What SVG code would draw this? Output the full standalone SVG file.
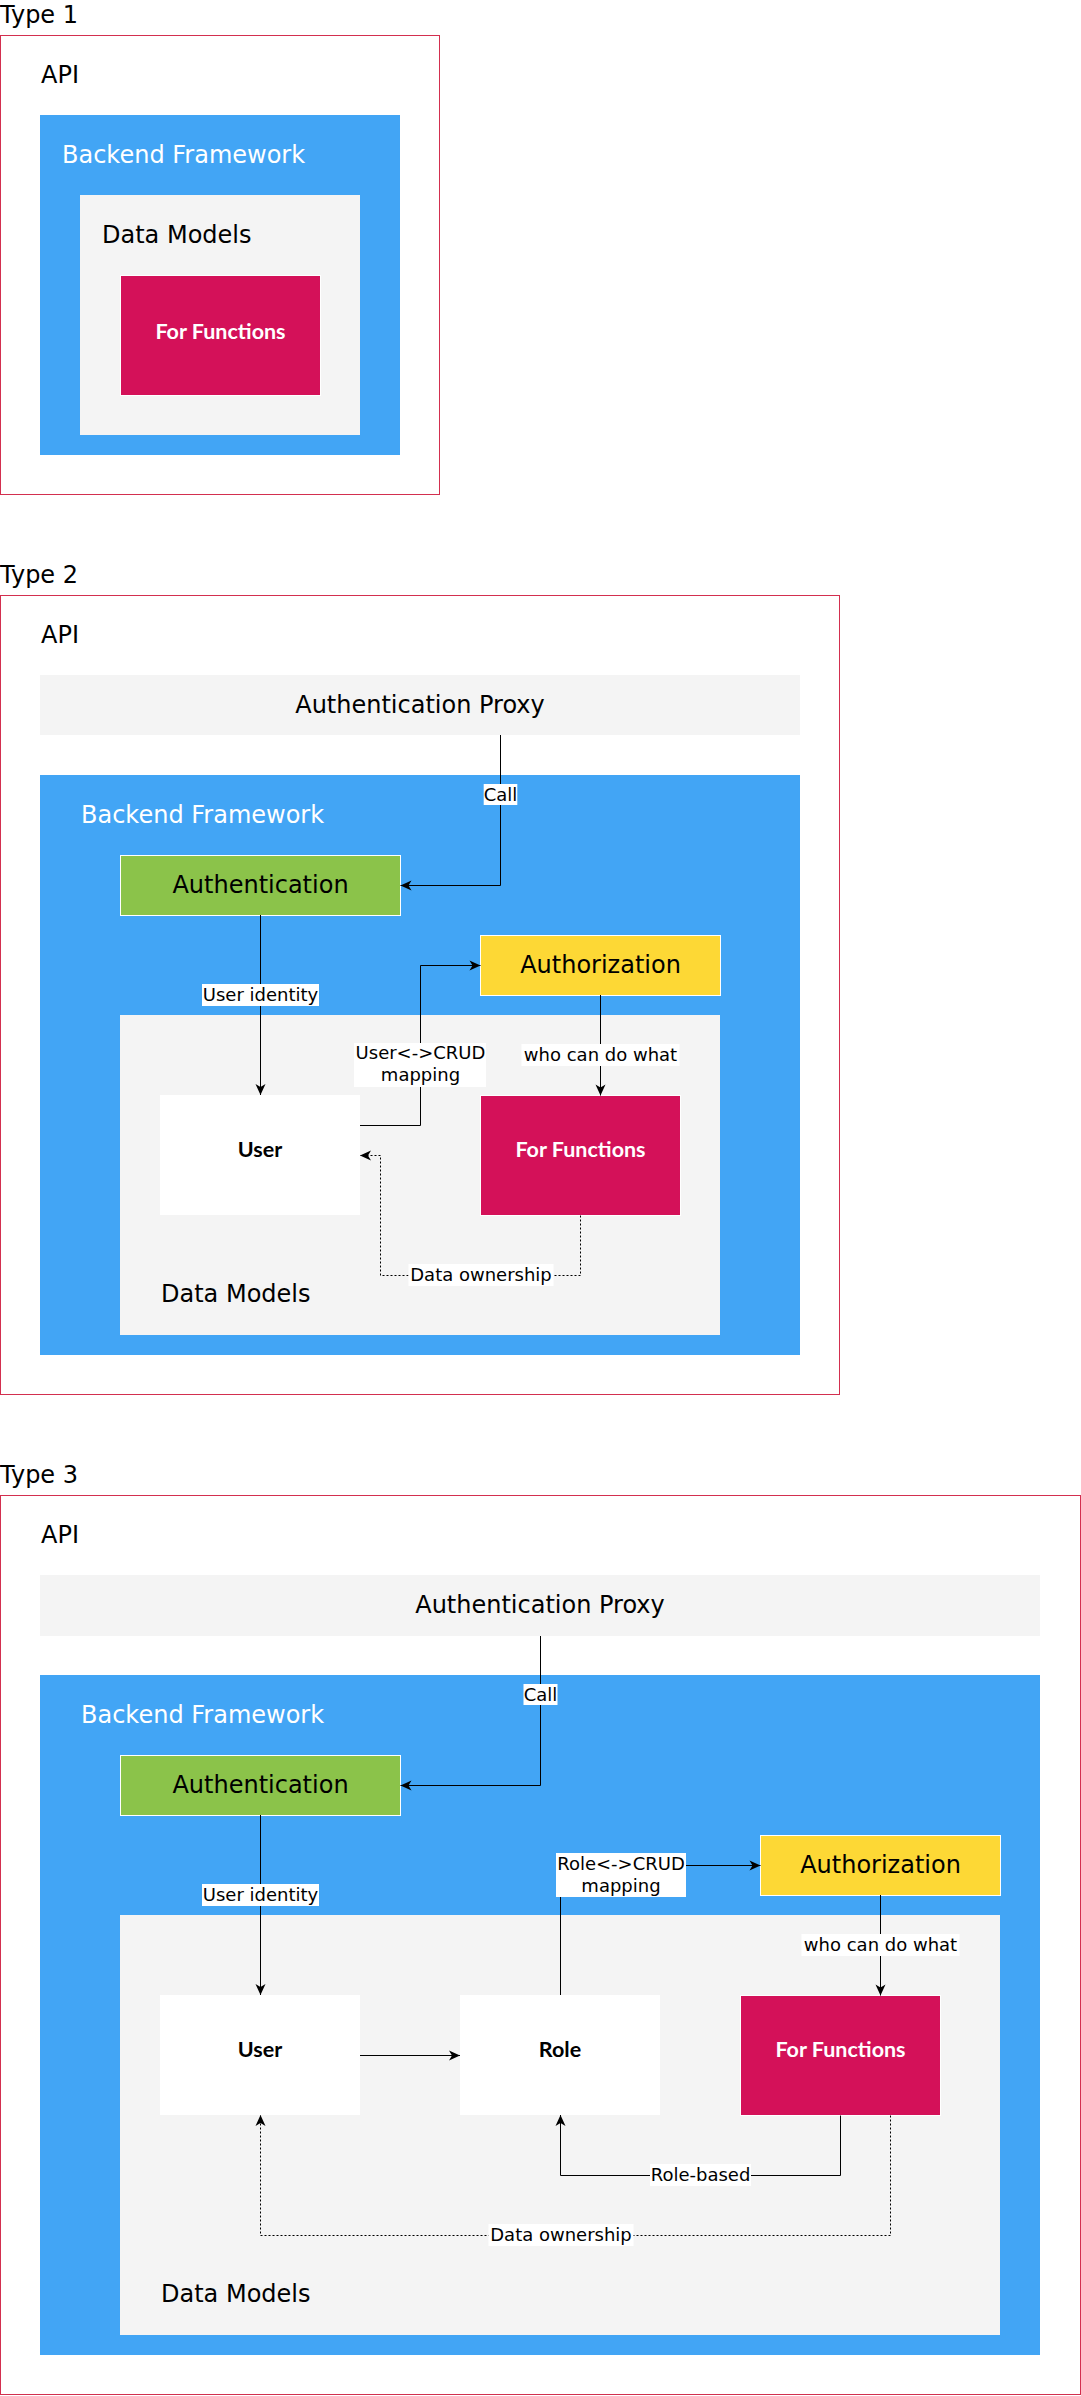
<svg xmlns="http://www.w3.org/2000/svg" width="1081" height="2396" viewBox="0 0 1081 2396">
<style>
.t{font-family:"DejaVu Sans",sans-serif;font-size:24px;fill:#000}
.c{text-anchor:middle}
.w{fill:#fff}
.b{font-family:Lato,"Liberation Sans",sans-serif;font-weight:bold;font-size:21.5px;text-anchor:middle}
.el{font-family:"DejaVu Sans",sans-serif;font-size:18px;text-anchor:middle;fill:#000}
.edge{fill:none;stroke:#000;stroke-width:1}
.dot{stroke-dasharray:2 2}
.frame{fill:#fff;stroke:#d32f4f;stroke-width:1}
.backend{fill:#42a5f5}
.dm{fill:#f4f4f4}
.proxy{fill:#f4f4f4}
.auth{fill:#8bc34a;stroke:#fff}
.authz{fill:#fdd835;stroke:#fff}
.ff{fill:#d41159;stroke:#fff}
.ent{fill:#fff}
.bg{fill:#fff}
</style>
<defs>
<marker id="arr" markerUnits="userSpaceOnUse" viewBox="-12 -6 13 12" refX="0" refY="0" markerWidth="13" markerHeight="12" orient="auto">
<path d="M0,0 L-11,-5 L-8,0 L-11,5 Z" fill="#000"/>
</marker>
</defs>
<rect width="1081" height="2396" fill="#fff"/>

<!-- Type 1 -->
<g id="type1">
<text class="t" x="0" y="23">Type 1</text>
<g id="t1-api"><rect class="frame" x="0.5" y="35.5" width="439" height="459"/><text class="t" x="41" y="83">API</text></g>
<g id="t1-backend"><rect class="backend" x="40" y="115" width="360" height="340"/><text class="t w" x="62" y="163">Backend Framework</text></g>
<g id="t1-datamodels"><rect class="dm" x="80" y="195" width="280" height="240"/><text class="t" x="102" y="243">Data Models</text></g>
<g id="t1-forfunctions"><rect class="ff" x="120.5" y="275.5" width="200" height="120"/><text class="b w" x="220.5" y="339">For Functions</text></g>
</g>

<!-- Type 2 -->
<g id="type2">
<text class="t" x="0" y="583">Type 2</text>
<g id="t2-api"><rect class="frame" x="0.5" y="595.5" width="839" height="799"/><text class="t" x="41" y="643">API</text></g>
<g id="t2-proxy"><rect class="proxy" x="40" y="675" width="760" height="60"/><text class="t c" x="420" y="713">Authentication Proxy</text></g>
<g id="t2-backend"><rect class="backend" x="40" y="775" width="760" height="580"/><text class="t w" x="81" y="823">Backend Framework</text></g>
<g id="t2-authentication"><rect class="auth" x="120.5" y="855.5" width="280" height="60"/><text class="t c" x="260.5" y="893">Authentication</text></g>
<g id="t2-authorization"><rect class="authz" x="480.5" y="935.5" width="240" height="60"/><text class="t c" x="600.5" y="973">Authorization</text></g>
<g id="t2-datamodels"><rect class="dm" x="120" y="1015" width="600" height="320"/><text class="t" x="161" y="1302">Data Models</text></g>
<g id="t2-user"><rect class="ent" x="160" y="1095" width="200" height="120"/><text class="b" x="260" y="1157">User</text></g>
<g id="t2-forfunctions"><rect class="ff" x="480.5" y="1095.5" width="200" height="120"/><text class="b w" x="580.5" y="1157">For Functions</text></g>
</g>

<!-- Type 3 -->
<g id="type3">
<text class="t" x="0" y="1483">Type 3</text>
<g id="t3-api"><rect class="frame" x="0.5" y="1495.5" width="1080" height="899"/><text class="t" x="41" y="1543">API</text></g>
<g id="t3-proxy"><rect class="proxy" x="40" y="1575" width="1000" height="61"/><text class="t c" x="540" y="1613">Authentication Proxy</text></g>
<g id="t3-backend"><rect class="backend" x="40" y="1675" width="1000" height="680"/><text class="t w" x="81" y="1723">Backend Framework</text></g>
<g id="t3-authentication"><rect class="auth" x="120.5" y="1755.5" width="280" height="60"/><text class="t c" x="260.5" y="1793">Authentication</text></g>
<g id="t3-authorization"><rect class="authz" x="760.5" y="1835.5" width="240" height="60"/><text class="t c" x="880.5" y="1873">Authorization</text></g>
<g id="t3-datamodels"><rect class="dm" x="120" y="1915" width="880" height="420"/><text class="t" x="161" y="2302">Data Models</text></g>
<g id="t3-user"><rect class="ent" x="160" y="1995" width="200" height="120"/><text class="b" x="260" y="2057">User</text></g>
<g id="t3-role"><rect class="ent" x="460" y="1995" width="200" height="120"/><text class="b" x="560" y="2057">Role</text></g>
<g id="t3-forfunctions"><rect class="ff" x="740.5" y="1995.5" width="200" height="120"/><text class="b w" x="840.5" y="2057">For Functions</text></g>
</g>

<!-- Connectors -->
<g id="connectors">
<!-- Type 2 -->
<path class="edge" d="M500.5,735 V885.5 H400.5" marker-end="url(#arr)"/>
<path class="edge" d="M260.5,915 V1095" marker-end="url(#arr)"/>
<path class="edge" d="M360,1125.5 H420.5 V965.5 H480.5" marker-end="url(#arr)"/>
<path class="edge" d="M600.5,995 V1095.5" marker-end="url(#arr)"/>
<path class="edge dot" d="M580.5,1215.5 V1275.5 H380.5 V1155.5 H360" marker-end="url(#arr)"/>
<rect class="bg" x="483.7" y="784" width="33.6" height="21"/><text class="el" x="500.5" y="800.5">Call</text>
<rect class="bg" x="202" y="984" width="117" height="22"/><text class="el" x="260.5" y="1001">User identity</text>
<rect class="bg" x="354" y="1043" width="132" height="44"/><text class="el" x="420.5" y="1059">User&lt;-&gt;CRUD</text><text class="el" x="420.5" y="1081">mapping</text>
<rect class="bg" x="521.5" y="1044" width="158" height="22"/><text class="el" x="600.5" y="1061">who can do what</text>
<rect class="bg" x="408.5" y="1264" width="145" height="22"/><text class="el" x="481" y="1281">Data ownership</text>
<!-- Type 3 -->
<path class="edge" d="M540.5,1636 V1785.5 H400.5" marker-end="url(#arr)"/>
<path class="edge" d="M260.5,1815 V1995" marker-end="url(#arr)"/>
<path class="edge" d="M560.5,1995 V1865.5 H760.5" marker-end="url(#arr)"/>
<path class="edge" d="M360,2055.5 H460" marker-end="url(#arr)"/>
<path class="edge" d="M880.5,1895 V1995.5" marker-end="url(#arr)"/>
<path class="edge" d="M840.5,2115.5 V2175.5 H560.5 V2115" marker-end="url(#arr)"/>
<path class="edge dot" d="M890.5,2115.5 V2235.5 H260.5 V2115" marker-end="url(#arr)"/>
<rect class="bg" x="523.5" y="1684" width="34" height="21"/><text class="el" x="540.5" y="1700.5">Call</text>
<rect class="bg" x="202" y="1884" width="117" height="22"/><text class="el" x="260.5" y="1901">User identity</text>
<rect class="bg" x="556" y="1853" width="130" height="44"/><text class="el" x="621" y="1869.5">Role&lt;-&gt;CRUD</text><text class="el" x="621" y="1892">mapping</text>
<rect class="bg" x="801.5" y="1934" width="158" height="22"/><text class="el" x="880.5" y="1951">who can do what</text>
<rect class="bg" x="650" y="2164" width="101" height="22"/><text class="el" x="700.5" y="2181">Role-based</text>
<rect class="bg" x="488.5" y="2224" width="145" height="22"/><text class="el" x="561" y="2241">Data ownership</text>
</g>
</svg>
